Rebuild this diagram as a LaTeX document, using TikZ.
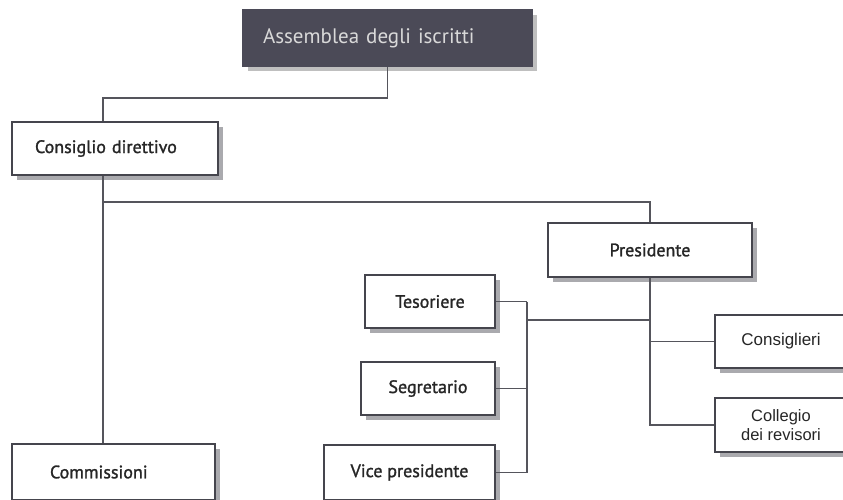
\documentclass[tikz,border=0pt]{standalone}
\usepackage{fontspec}
\setmainfont{PT Sans}
\newfontfamily\boxfont{PT Sans}[FakeBold=1.4]
\newfontfamily\arialfont{Liberation Sans}
\usetikzlibrary{shadows}
\definecolor{boxline}{HTML}{45454D}
\definecolor{linegray}{HTML}{55555C}
\definecolor{assfill}{HTML}{4B4A57}
\definecolor{shadowgray}{HTML}{AAAAAE}
\begin{document}
\begin{tikzpicture}[x=1pt,y=-1pt,
  box/.style={draw=boxline, line width=1.3pt, fill=white, text=black!85,
    minimum height=54pt, inner sep=0pt, font=\boxfont\fontsize{18}{20}\selectfont,
    drop shadow={shadow xshift=5pt, shadow yshift=-5pt, fill=shadowgray, opacity=1}},
  leftbox/.style={box, align=left, text width=#1},
  topbox/.style={box, align=left, fill=assfill, draw=assfill, text=black!15,
    font=\fontsize{21}{23}\selectfont,
    drop shadow={shadow xshift=5pt, shadow yshift=-5pt, fill=black!25, opacity=1}},
  conn/.style={draw=linegray, line width=1.4pt}]
\useasboundingbox (0,0) rectangle (843,499);
\clip (0,0) rectangle (843,499);
% top of the chart
\node[topbox, text width=249pt, inner xsep=20pt, minimum height=56pt] (ass) at (387.5,38) {Assemblea degli iscritti};
\node[leftbox=160pt, inner xsep=23pt, minimum width=206pt, minimum height=53pt] (cons) at (115,148.5) {Consiglio direttivo};
\node[leftbox=127pt, inner xsep=38pt, minimum width=203pt, minimum height=56pt] (comm) at (113.5,472) {Commissioni};
\node[box, minimum width=204pt] (pres) at (650,250) {Presidente};
% left branch of the president
\node[box, minimum width=130pt, minimum height=53pt] (teso) at (430,301.5) {Tesoriere};
\node[box, minimum width=134pt, minimum height=53pt] (segr) at (428,388.5) {Segretario};
\node[box, minimum width=171pt, minimum height=55pt] (vice) at (409.5,472.5) {Vice presidente};
% right branch of the president
\node[box, minimum width=132pt, minimum height=53pt, font=\arialfont\fontsize{17}{19}\selectfont] (cnsg) at (781,341.5) {Consiglieri};
\node[box, minimum width=132pt, minimum height=54pt, align=center, font=\arialfont\fontsize{16.5}{19}\selectfont] (coll) at (781,425) {Collegio\\dei revisori};
% junctions
\coordinate (j1) at (103,98);
\coordinate (j2) at (103,202);
\coordinate (br) at (527,320);
\draw[conn] (ass.south) |- (j1) -- (j1 |- cons.north);
\draw[conn] (j1 |- cons.south) -- (j1 |- comm.north);
\draw[conn] (j2) -| (pres.north);
\foreach \n in {teso,segr,vice} % edit here for the bracket
\draw[conn] (\n.east) -- (\n.east -| br);
\draw[conn] (teso.east -| br) -- (vice.east -| br);
\draw[conn] (br) -- (br -| pres.south);
\draw[conn] (pres.south) |- (coll.west);
\draw[conn] (cnsg.west) -- (cnsg.west -| pres.south);
\end{tikzpicture}
\end{document}
